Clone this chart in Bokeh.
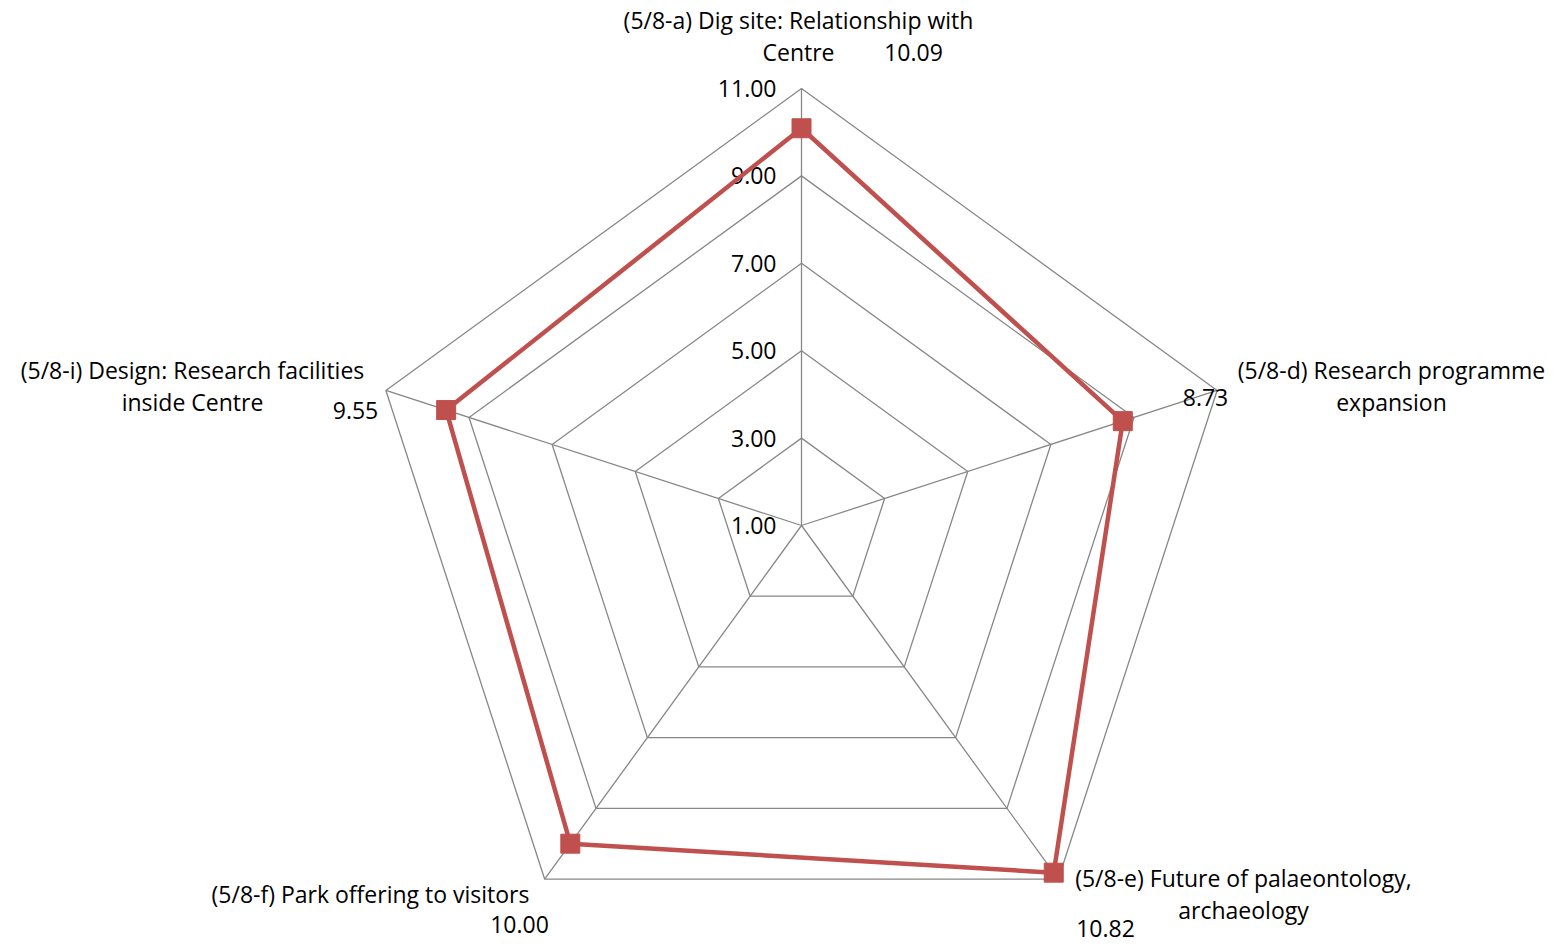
import numpy as np
from bokeh.plotting import figure
from bokeh.models import Range1d
from bokeh.core.properties import value
from bokeh.embed import file_html
from bokeh.resources import INLINE

# Survey scores per question (radar chart)
categories = [
    ["(5/8-a) Dig site: Relationship with", "Centre"],
    ["(5/8-d) Research programme", "expansion"],
    ["(5/8-e) Future of palaeontology,", "archaeology"],
    ["(5/8-f) Park offering to visitors"],
    ["(5/8-i) Design: Research facilities", "inside Centre"],
]
scores = [10.09, 8.73, 10.82, 10.00, 9.55]
ring_values = [1.0, 3.0, 5.0, 7.0, 9.0, 11.0]
tick_labels = ["1.00", "3.00", "5.00", "7.00", "9.00", "11.00"]

# Layout (screen pixels, y downward)
W, H = 1555, 944
CX, CY = 801.0, 525.0
R_MAX = 437.0
V_MIN, V_MAX = 1.0, 11.0
FONT = value("Open Sans")
FS = "23px"
GRID = "#878787"
RED = "#C0504D"

n = len(scores)
angles = np.pi / 2 - np.arange(n) * 2 * np.pi / n


def radius(v):
    return (np.asarray(v, dtype=float) - V_MIN) / (V_MAX - V_MIN) * R_MAX


def to_xy(v, ang):
    r = radius(v)
    return CX + r * np.cos(ang), CY - r * np.sin(ang)


p = figure(width=W, height=H, output_backend="svg", toolbar_location=None,
           x_range=Range1d(0, W), y_range=Range1d(H, 0), min_border=0,
           outline_line_color=None, background_fill_color="white")
p.axis.visible = False
p.grid.visible = False

# concentric pentagon rings
rx, ry = [], []
for v in ring_values[1:]:
    xs, ys = to_xy(np.full(n, v), angles)
    rx.append(list(xs) + [xs[0]])
    ry.append(list(ys) + [ys[0]])
p.multi_line(rx, ry, line_color=GRID, line_width=1.3)

# spokes
ox, oy = to_xy(np.full(n, V_MAX), angles)
p.multi_line([[CX, x] for x in ox], [[CY, y] for y in oy], line_color=GRID, line_width=1.3)

# value axis tick labels along the top spoke
ty = CY - radius(ring_values)
p.text(x=[776] * len(ty), y=list(ty), text=tick_labels, text_font=FONT,
       text_font_size=FS, text_align="right", text_baseline="middle", text_color="#000000")

# series line and markers
sx, sy = to_xy(scores, angles)
p.line(list(sx) + [sx[0]], list(sy) + [sy[0]], line_color=RED, line_width=4.5)
p.scatter(list(sx), list(sy), marker="square", size=19, fill_color=RED, line_color=RED)

# category labels
cat_x = [798, 1391, 1243, 370, 192]
cat_y = [19, 369, 877, 893, 369]
lx, ly, lt = [], [], []
for cx_, cy_, lines in zip(cat_x, cat_y, categories):
    for k, t in enumerate(lines):
        lx.append(cx_)
        ly.append(cy_ + 32 * k)
        lt.append(t)
p.text(x=lx, y=ly, text=lt, text_font=FONT, text_font_size=FS, text_align="center",
       text_baseline="middle", text_color="#000000")

# data labels
dl_x = [913, 1205, 1105, 519, 355]
dl_y = [52, 397, 928, 924, 410]
p.text(x=dl_x, y=dl_y, text=[f"{s:.2f}" for s in scores], text_font=FONT,
       text_font_size=FS, text_align="center", text_baseline="middle", text_color="#000000")

open("out.html", "w").write(file_html(p, INLINE))
